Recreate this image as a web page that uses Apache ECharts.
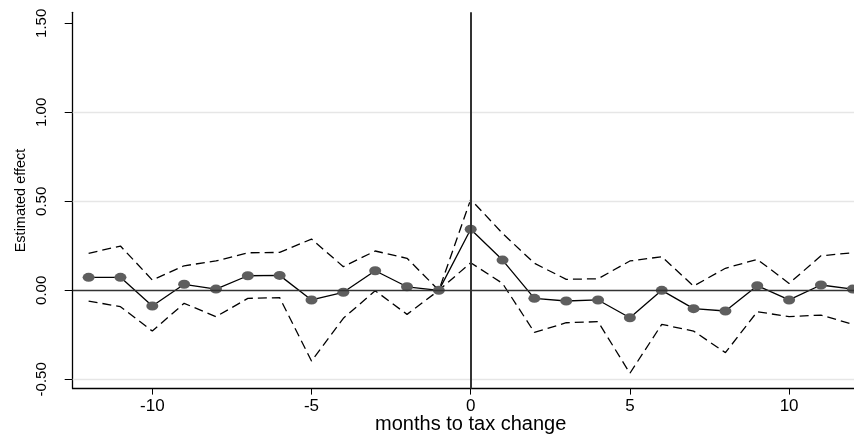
<!DOCTYPE html>
<html>
<head>
<meta charset="utf-8">
<script src="https://cdn.jsdelivr.net/npm/echarts@6/dist/echarts.min.js"></script>
<style>html,body{margin:0;padding:0;background:#fff}#c{width:854px;height:435px}</style>
</head>
<body>
<div id="c"></div>
<script>
var months = [-12,-11,-10,-9,-8,-7,-6,-5,-4,-3,-2,-1,0,1,2,3,4,5,6,7,8,9,10,11,12];
var estimate = [0.073,0.073,-0.088,0.034,0.007,0.082,0.084,-0.054,-0.011,0.110,0.020,0.0,0.343,0.170,-0.045,-0.060,-0.054,-0.154,0.0,-0.103,-0.116,0.026,-0.054,0.030,0.007];
var upper = [0.208,0.249,0.058,0.138,0.165,0.211,0.213,0.288,0.133,0.221,0.180,0.0,0.511,0.320,0.152,0.062,0.065,0.165,0.189,0.024,0.124,0.174,0.039,0.194,0.211];
var lower = [-0.060,-0.092,-0.229,-0.073,-0.148,-0.045,-0.041,-0.397,-0.157,-0.002,-0.135,0.0,0.155,0.039,-0.236,-0.182,-0.176,-0.466,-0.191,-0.229,-0.350,-0.120,-0.148,-0.139,-0.191];
var xTicks = [-10,-5,0,5,10];
var yTicks = [-0.5,0,0.5,1,1.5];
var yGrid = [-0.5,0.5,1.0];

function pairs(ys){ return months.map(function(m,i){ return [m, ys[i]]; }); }

var chart = echarts.init(document.getElementById('c'), null, {renderer:'canvas'});
var font = 'Liberation Sans, Arial, Helvetica, sans-serif';
chart.setOption({
  animation:false,
  backgroundColor:'#fff',
  grid:{left:72.7, top:12.3, width:796, height:376.3, containLabel:false, outerBoundsMode:'none'},
  xAxis:{
    type:'value', min:-12.5, max:12.5,
    name:'months to tax change', nameLocation:'middle', nameGap:26, nameMoveOverlap:false,
    nameTextStyle:{fontFamily:font, fontSize:20, color:'#000'},
    axisLine:{show:true, onZero:false, lineStyle:{color:'#000', width:1.3}},
    axisTick:{show:true, customValues:xTicks, length:6, lineStyle:{color:'#000', width:1}},
    axisLabel:{customValues:xTicks, fontFamily:font, fontSize:17, color:'#000', margin:9},
    splitLine:{show:false}
  },
  yAxis:{
    type:'value', min:-0.552, max:1.562,
    name:'Estimated effect', nameLocation:'middle', nameGap:44, nameRotate:90, nameMoveOverlap:false,
    nameTextStyle:{fontFamily:font, fontSize:14.5, color:'#000'},
    axisLine:{show:true, onZero:false, lineStyle:{color:'#000', width:1.3}},
    axisTick:{show:true, customValues:yTicks, length:8, lineStyle:{color:'#000', width:1}},
    axisLabel:{customValues:yTicks, rotate:90, fontFamily:font, fontSize:15, color:'#000', margin:23,
      formatter:function(v){ return v.toFixed(2); }},
    splitLine:{show:false}
  },
  series:[
    {
      type:'line', data:[], silent:true,
      markLine:{silent:true, symbol:'none', label:{show:false},
        lineStyle:{color:'#e6e6e6', width:1.3, type:'solid'},
        data: yGrid.map(function(v){ return {yAxis:v}; })
      }
    },
    {
      type:'line', data:[], silent:true,
      markLine:{silent:true, symbol:'none', label:{show:false},
        data:[
          {yAxis:0, lineStyle:{color:'#333', width:1.3, type:'solid'}},
          {xAxis:0, lineStyle:{color:'#333', width:2, type:'solid'}}
        ]
      }
    },
    {
      type:'line', data:pairs(upper), symbol:'none', clip:false,
      lineStyle:{color:'#000', width:1.3, type:[9,5]}
    },
    {
      type:'line', data:pairs(lower), symbol:'none', clip:false,
      lineStyle:{color:'#000', width:1.3, type:[9,5]}
    },
    {
      type:'line', data:pairs(estimate), symbol:'circle', symbolSize:[12,9], clip:false,
      lineStyle:{color:'#000', width:1.3},
      itemStyle:{color:'#5e5e5e', borderWidth:0}
    }
  ]
});
</script>
</body>
</html>
